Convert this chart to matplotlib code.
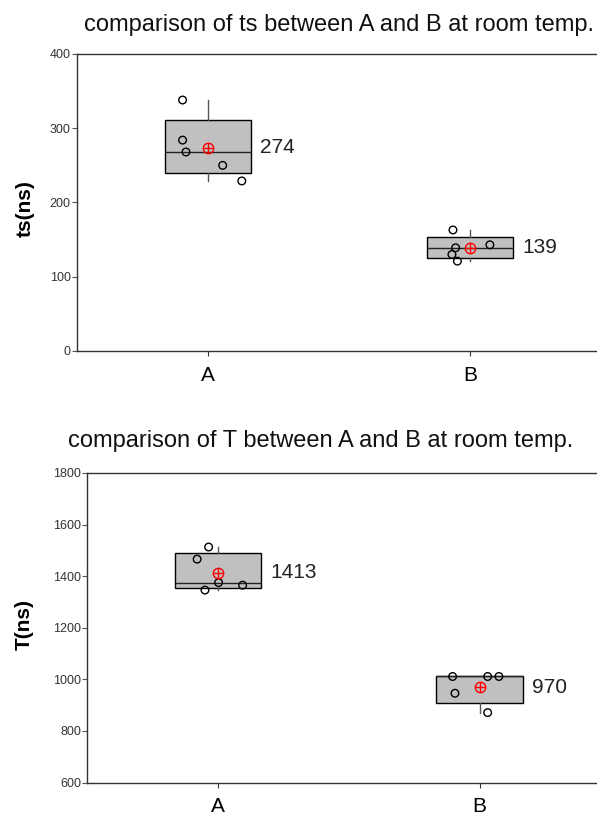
import matplotlib
matplotlib.use("Agg")
import matplotlib.pyplot as plt
import numpy as np

plt.rcParams["font.family"] = ["Liberation Sans", "DejaVu Sans"]

# ── Data ──────────────────────────────────────────────────────────────────
groups = ["A", "B"]

ts_A = [338, 284, 268, 250, 229]
ts_B = [163, 139, 130, 121, 143]
ts_jit_A = [-0.097, -0.097, -0.084, 0.056, 0.129]
ts_jit_B = [-0.065, -0.055, -0.069, -0.048, 0.076]

T_A = [1513, 1466, 1375, 1346, 1365]
T_B = [1011, 1011, 1011, 946, 871]
T_jit_A = [-0.036, -0.080, 0.002, -0.050, 0.094]
T_jit_B = [-0.103, 0.031, 0.074, -0.094, 0.031]

BOX_FILL = "#C0C0C0"


def box_stats(vals):
    v = np.asarray(vals, dtype=float)
    q1, med, q3 = np.percentile(v, [25, 50, 75], method="weibull")
    return dict(med=med, q1=q1, q3=q3, whislo=v.min(), whishi=v.max(),
                mean=v.mean(), fliers=[])


def panel(ax, data, jitters, title, title_x, title_dy, ylabel, ylim, yticks):
    pos = [1, 2]
    stats = [box_stats(d) for d in data]
    ax.bxp(stats, positions=pos, widths=0.33, showcaps=False, showfliers=False,
           patch_artist=True,
           boxprops=dict(facecolor=BOX_FILL, edgecolor="black", linewidth=1.0),
           medianprops=dict(color="#222222", linewidth=1.0),
           whiskerprops=dict(color="#555555", linewidth=1.0))
    for p, d, j in zip(pos, data, jitters):
        ax.scatter(np.array(j) + p, d, s=30, facecolors="none",
                   edgecolors="black", linewidths=1.0, zorder=4)
        m = np.mean(d)
        ax.plot(p, m, "o", ms=7.5, mfc="none", mec="red", mew=1.0, zorder=5)
        ax.plot(p, m, "+", ms=7.5, color="red", mew=1.0, zorder=5)
        ax.text(p + 0.2, m, f"{m:.0f}", ha="left", va="center",
                fontsize=15, color="#222222")
    ax.set_xlim(0.5, 2.5)
    ax.set_ylim(*ylim)
    ax.set_yticks(yticks)
    ax.set_xticks(pos)
    ax.set_xticklabels(groups, fontsize=15)
    ax.tick_params(axis="y", labelsize=9, labelcolor="#333333",
                   length=3.5, pad=1, color="#555555")
    ax.tick_params(axis="x", length=3.5, pad=7, color="#333333")
    ax.set_ylabel(ylabel, fontsize=15, fontweight="bold")
    for s in ["left", "bottom", "top"]:
        ax.spines[s].set_color("#333333")
        ax.spines[s].set_linewidth(1.0)
    ax.spines["right"].set_visible(False)
    fig.text(title_x, ax.get_position().y1 + title_dy, title, ha="center",
             va="center", fontsize=17, color="#111111")


fig = plt.figure(figsize=(5.97, 8.17), dpi=100, facecolor="white")

ax1 = fig.add_axes([77 / 597, (817 - 351) / 817, 524 / 597, 297 / 817])
panel(ax1, [ts_A, ts_B], [ts_jit_A, ts_jit_B],
      "comparison of ts between A and B at room temp.", 338.5 / 597, 0.036,
      "ts(ns)", (0, 400), [0, 100, 200, 300, 400])
ax1.yaxis.set_label_coords(-0.08, 0.48)

ax2 = fig.add_axes([87.3 / 597, (817 - 782.5) / 817, 523 / 597, 309.5 / 817])
panel(ax2, [T_A, T_B], [T_jit_A, T_jit_B],
      "comparison of T between A and B at room temp.", 320.5 / 597, 0.039,
      "T(ns)", (600, 1800), [600, 800, 1000, 1200, 1400, 1600, 1800])
ax2.yaxis.set_label_coords(-0.102, 0.51)

fig.savefig("out.png", dpi=100, facecolor="white")
